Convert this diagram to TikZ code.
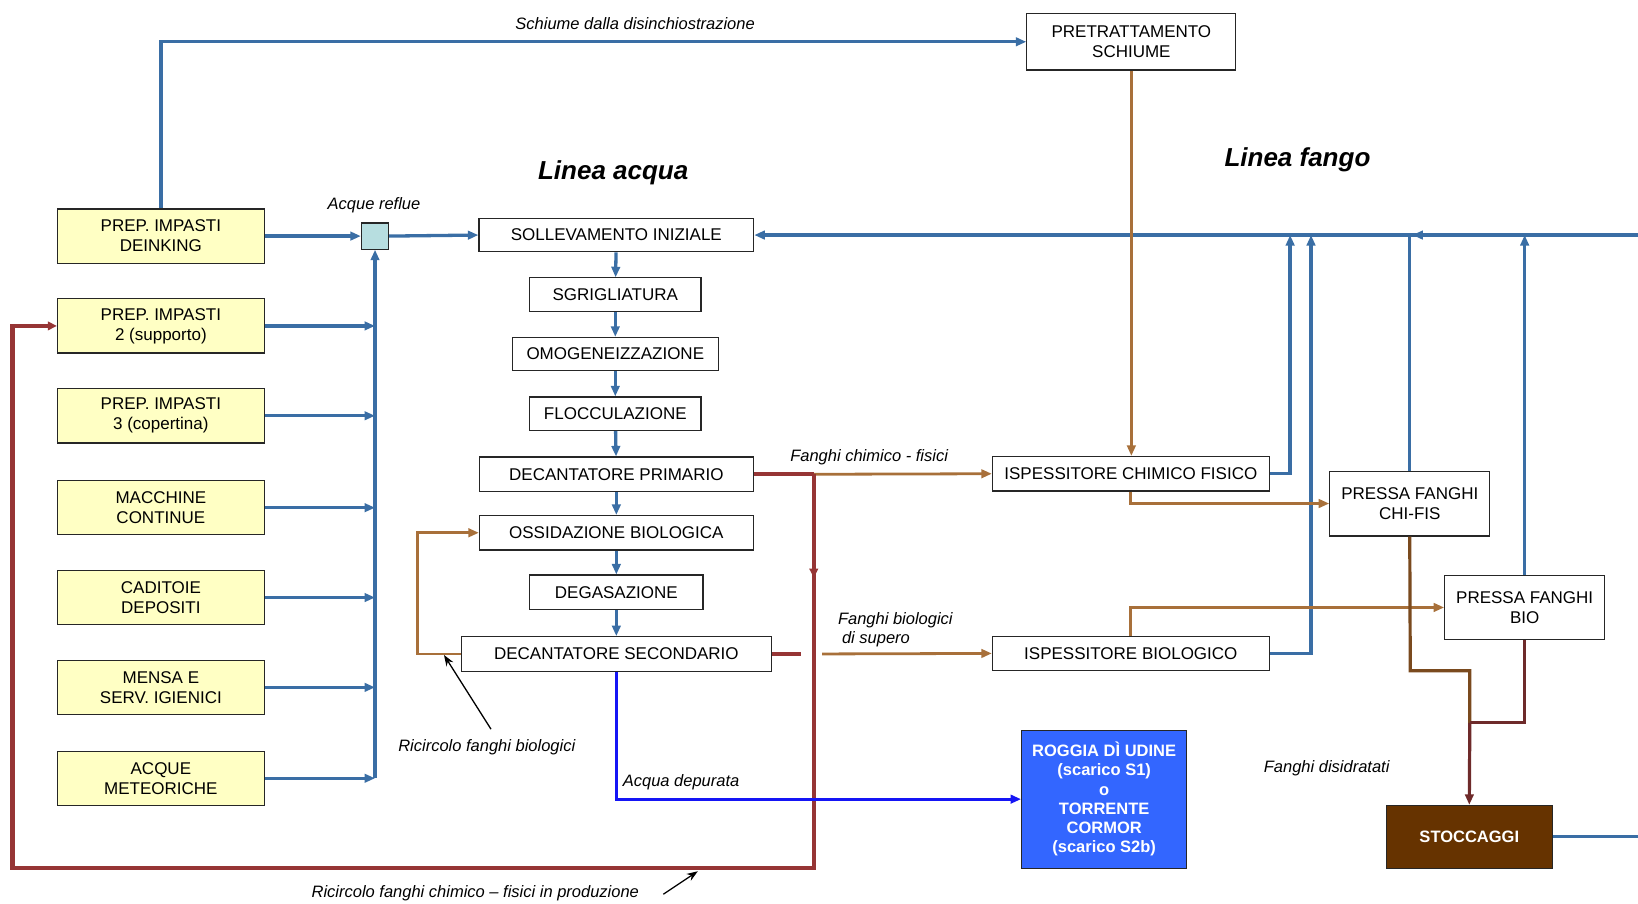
\documentclass[tikz,border=0pt]{standalone}
\usepackage{fontspec}
\setmainfont{Liberation Sans}
\usetikzlibrary{arrows.meta}
\definecolor{cblue}{HTML}{3A6EA5}
\definecolor{cbrown}{HTML}{A8703A}
\definecolor{cred}{HTML}{963535}
\definecolor{cdbrown}{HTML}{7A4A1E}
\definecolor{cmaroon}{HTML}{6E2A2A}
\definecolor{cpure}{HTML}{1515F5}
\definecolor{cyel}{HTML}{FFFFC4}
\definecolor{csq}{HTML}{B7DEE0}
\definecolor{crog}{HTML}{3366FF}
\definecolor{csto}{HTML}{663300}
\newcommand{\spx}[1]{#1*1.0447pt}
\newcommand{\boxfont}{\fontsize{17}{20}\selectfont}
\newcommand{\lblfont}{\fontsize{16.5}{19.5}\selectfont\itshape}
\begin{document}
\begin{tikzpicture}[x=1.0447pt,y=-1.0447pt,
  tip/.style={-{Triangle[length=10.5pt,width=8.5pt]}},
  box/.style={draw=black!85,line width=1.2pt,fill=white,align=center,inner sep=0pt,font=\boxfont},
  ybox/.style={box,fill=cyel,minimum width={\spx{198}},minimum height={\spx{52}}},
  bl/.style={draw=cblue,line width=3.3pt},
  br/.style={draw=cbrown,line width=2.8pt},
  rd/.style={draw=cred,line width=4.2pt},
  lbl/.style={font=\lblfont,inner sep=0pt},
  ttl/.style={font=\fontsize{26}{30}\selectfont\bfseries\itshape,inner sep=0pt},
  ann/.style={draw=black,line width=1.3pt,-{Stealth[length=11pt,width=8pt]}}
]
\useasboundingbox (0,0) rectangle (1568,865);

% left yellow boxes
\node[ybox] (y1) at (154,226) {PREP. IMPASTI\\DEINKING};
\node[ybox] (y2) at (154,312) {PREP. IMPASTI\\2 (supporto)};
\node[ybox] (y3) at (154,398) {PREP. IMPASTI\\3 (copertina)};
\node[ybox] (y4) at (154,486) {MACCHINE\\CONTINUE};
\node[ybox] (y5) at (154,572) {CADITOIE\\DEPOSITI};
\node[ybox] (y6) at (154,658) {MENSA E\\SERV. IGIENICI};
\node[ybox] (y7) at (154,745) {ACQUE\\METEORICHE};

\node[box,fill=csq,minimum width={\spx{26}},minimum height={\spx{25}}] (sq) at (359,226) {};

% water line
\node[box,minimum width={\spx{263}},minimum height={\spx{32}}] (soll) at (590,225) {SOLLEVAMENTO INIZIALE};
\node[box,minimum width={\spx{164}},minimum height={\spx{32}}] (sgr) at (589,282) {SGRIGLIATURA};
\node[box,minimum width={\spx{197}},minimum height={\spx{32}}] (omo) at (589,339) {OMOGENEIZZAZIONE};
\node[box,minimum width={\spx{164}},minimum height={\spx{32}}] (flo) at (589,396) {FLOCCULAZIONE};
\node[box,minimum width={\spx{262}},minimum height={\spx{33}}] (dp) at (590,454) {DECANTATORE PRIMARIO};
\node[box,minimum width={\spx{262}},minimum height={\spx{33}}] (ox) at (590,510) {OSSIDAZIONE BIOLOGICA};
\node[box,minimum width={\spx{166}},minimum height={\spx{33}}] (deg) at (590,567) {DEGASAZIONE};
\node[box,minimum width={\spx{297}},minimum height={\spx{33}}] (ds) at (590,626) {DECANTATORE SECONDARIO};

% sludge line
\node[box,minimum width={\spx{200}},minimum height={\spx{54}}] (pret) at (1083,40) {PRETRATTAMENTO\\SCHIUME};
\node[box,minimum width={\spx{265}},minimum height={\spx{33}}] (ich) at (1082.5,453.5) {ISPESSITORE CHIMICO FISICO};
\node[box,minimum width={\spx{265}},minimum height={\spx{33}}] (ibio) at (1082.5,625.5) {ISPESSITORE BIOLOGICO};
\node[box,minimum width={\spx{153}},minimum height={\spx{62}}] (pchi) at (1349.5,482) {PRESSA FANGHI\\CHI-FIS};
\node[box,minimum width={\spx{153}},minimum height={\spx{61}}] (pbio) at (1459.5,581.5) {PRESSA FANGHI\\BIO};
\node[box,fill=crog,text=white,font=\fontsize{16.5}{19.2}\selectfont\bfseries,minimum width={\spx{158}},minimum height={\spx{132}}] (rog) at (1057,765) {ROGGIA DÌ UDINE\\(scarico S1)\\o\\TORRENTE\\CORMOR\\(scarico S2b)};
\node[box,fill=csto,text=white,font=\fontsize{16.5}{19.2}\selectfont\bfseries,minimum width={\spx{159}},minimum height={\spx{60}}] (sto) at (1406.5,801) {STOCCAGGI};

% coordinates
\coordinate (rin) at (1568,225);
\coordinate (rmid) at (1352,225);
\coordinate (j1) at (1235,225);
\coordinate (j2) at (1255,225);
\coordinate (sout) at (1568,801);
\coordinate (dpr) at (779,454);
\coordinate (rdmid) at (779,553);
\coordinate (rbot) at (779,831);
\coordinate (rleft) at (12,831);
\coordinate (dsr) at (767,626);
\coordinate (fbs) at (787,626);
\coordinate (rcx) at (400,626);
\coordinate (k1) at (1350,642);
\coordinate (k2) at (1407,642);
\coordinate (k3) at (1407,692);
\coordinate (a1s) at (470,698);
\coordinate (a1e) at (425,627);
\coordinate (a2s) at (635,856);
\coordinate (a2e) at (668,834);

% blue connectors
\draw[bl,tip] (y1.north) |- (pret.west);
\draw[bl,tip] (y1.east) -- (sq.west);
\draw[bl,tip] (sq.south |- y7.east) -- (sq.south);
\foreach \n in {y2,y3,y4,y5,y6,y7}{\draw[bl,tip] (\n.east) -- (sq.south |- \n.east);}
\draw[bl,tip] (sq.east) -- (soll.west);
\draw[bl,tip] (soll) -- (sgr);
\draw[bl,tip] (sgr) -- (omo);
\draw[bl,tip] (omo) -- (flo);
\draw[bl,tip] (flo) -- (dp);
\draw[bl,tip] (dp) -- (ox);
\draw[bl,tip] (ox) -- (deg);
\draw[bl,tip] (deg) -- (ds);
\draw[bl,tip] (rin) -- (soll.east);
\draw[bl,tip] (rin) -- (rmid);
\draw[bl,tip] (ich.east) -| (j1);
\draw[bl,tip] (ibio.east) -| (j2);
\draw[bl] (pchi.north) -- (pchi.north |- rin);
\draw[bl,tip] (pbio.north) -- (pbio.north |- rin);
\draw[bl] (sto.east) -- (sout);

% brown connectors
\draw[br,tip] (pret.south) -- (pret.south |- ich.north);
\draw[br,tip] (dpr) -- (ich.west);
\draw[br,tip] (ich.south) |- (pchi.west);
\draw[br,tip] (ibio.north) |- (pbio.west);
\draw[br,tip] (fbs) -- (ibio.west);
\draw[br,tip] (ds.west) -- (rcx) |- (ox.west);

% red connectors
\draw[rd] (dp.east) -- (dpr);
\draw[rd,-{Triangle[length=9pt,width=8.5pt]}] (dpr) -- (rbot) -- (rleft) |- (y2.west);
\draw[rd,-{Triangle[length=9pt,width=8.5pt]}] (dpr) -- (rdmid);
\draw[rd] (ds.east) -- (dsr);

% clean water
\draw[draw=cpure,line width=3pt,tip] (ds.south) |- (rog.west);

% dewatered sludge
\draw[draw=cdbrown,line width=3.2pt] (pchi.south) -- (k1) -- (k2) -- (k3);
\draw[draw=cmaroon,line width=3.2pt] (pbio.south) |- (k3);
\draw[draw=cmaroon,line width=3.2pt,tip] (k3) -- (sto.north);

% annotation arrows
\draw[ann] (a1s) -- (a1e);
\draw[ann] (a2s) -- (a2e);

% labels
\node[lbl] (l1) at (608,23) {Schiume dalla disinchiostrazione};
\node[ttl] (t1) at (587,165) {Linea acqua};
\node[ttl] (t2) at (1242,153) {Linea fango};
\node[lbl] (l2) at (358,196) {Acque reflue};
\node[lbl] (l3) at (832,438) {Fanghi chimico - fisici};
\node[lbl,anchor=west,align=left] (l4) at (802,603) {Fanghi biologici\\\hspace{4pt}di supero};
\node[lbl] (l5) at (466,715) {Ricircolo fanghi biologici};
\node[lbl] (l6) at (652,749) {Acqua depurata};
\node[lbl] (l7) at (1270,735) {Fanghi disidratati};
\node[lbl] (l8) at (455,855) {Ricircolo fanghi chimico – fisici in produzione};
\end{tikzpicture}
\end{document}
